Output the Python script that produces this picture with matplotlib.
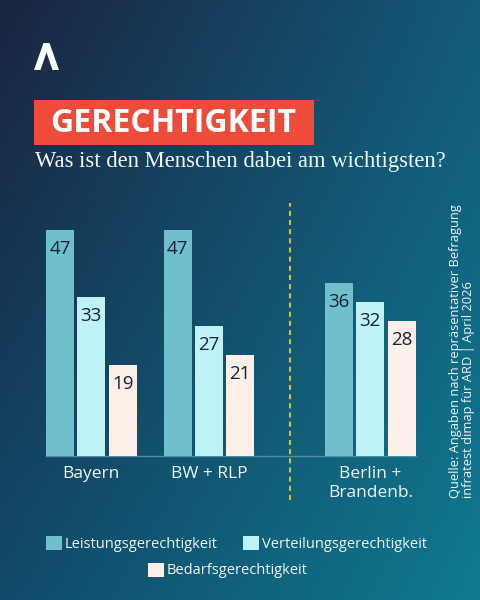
import numpy as np
import matplotlib
matplotlib.use("Agg")
import matplotlib.pyplot as plt
from matplotlib.patches import Rectangle, Polygon
import matplotlib.transforms as mtransforms

# ---- data ----
categories = ["Bayern", "BW + RLP", "Berlin +\nBrandenb."]
series_names = ["Leistungsgerechtigkeit", "Verteilungsgerechtigkeit", "Bedarfsgerechtigkeit"]
leistung = [47, 47, 36]
verteilung = [33, 27, 32]
bedarf = [19, 21, 28]
title = "GERECHTIGKEIT"
subtitle = "Was ist den Menschen dabei am wichtigsten?"
source_lines = ["Quelle: Angaben nach repräsentativer Befragung",
                "infratest dimap für ARD | April 2026"]

# ---- style ----
SANS = ["Open Sans", "DejaVu Sans"]
SERIF = ["Liberation Serif", "DejaVu Serif"]
colors = ["#6fc0cc", "#bff2f6", "#fbefe7"]
dark_txt = "#16213b"
light_txt = "#eef6f8"

W, H = 480, 600
fig = plt.figure(figsize=(W / 100, H / 100), dpi=100)

# background gradient
bg = fig.add_axes([0, 0, 1, 1], zorder=-10)
tl = np.array([26, 36, 64]) / 255
tr = np.array([19, 90, 122]) / 255
bl = np.array([17, 74, 106]) / 255
br = np.array([15, 122, 144]) / 255
u = np.linspace(0, 1, 200)[None, :, None]
v = np.linspace(0, 1, 250)[:, None, None]
img = (1 - v) * ((1 - u) * tl + u * tr) + v * ((1 - u) * bl + u * br)
bg.imshow(img, extent=[0, 1, 0, 1], aspect="auto", origin="upper")
bg.set_xlim(0, 1); bg.set_ylim(0, 1)
bg.axis("off")

def px(x, y):
    return x / W, 1 - y / H

# logo
logo = [(34, 70), (43.5, 43), (49.5, 43), (59, 70), (52.5, 70), (46.5, 52.5), (40.5, 70)]
fig.patches.append(Polygon([px(*p) for p in logo], closed=True, transform=fig.transFigure,
                           facecolor="white", edgecolor="none"))

# title box
fig.patches.append(Rectangle(px(34.3, 145.3), (314 - 34.3) / W, 45.3 / H,
                             transform=fig.transFigure, facecolor="#ef4b3b", edgecolor="none"))
fig.text(*px(50.5, 123), title, family=SANS, weight="bold", fontsize=23,
         color="white", va="center", ha="left")
fig.text(*px(35, 161.5), subtitle, family=SERIF, fontsize=16.3, color=light_txt,
         va="center", ha="left")

# ---- bar chart ----
ax = fig.add_axes([40 / W, 144 / H, 400 / W, 256 / H])
ax.set_facecolor("none")
for s in ax.spines.values():
    s.set_visible(False)
ax.set_xticks([]); ax.set_yticks([])

group_pos = np.array([0.0, 1.0, 2.374])
step = 0.266
width = 0.238
ax.set_xlim(-0.4366, 2.967)
ax.set_ylim(0, 53.22)

containers = []
for i, (vals, name, c) in enumerate(zip([leistung, verteilung, bedarf], series_names, colors)):
    bc = ax.bar(group_pos + (i - 1) * step, vals, width=width, color=c, label=name, zorder=2)
    containers.append(bc)
    for rect, val in zip(bc, vals):
        ax.annotate(str(val), (rect.get_x() + rect.get_width() / 2, rect.get_height()),
                    xytext=(0, -13.8), textcoords="offset points", ha="center", va="center",
                    family=SANS, fontsize=13.5, color=dark_txt, zorder=3)

# baseline
x_left = containers[0][0].get_x()
x_right = containers[-1][-1].get_x() + width
ax.plot([x_left, x_right], [0, 0], color="#4f8ea4", lw=1.0, zorder=1, clip_on=False)

# divider
div_x = (containers[-1][1].get_x() + width + containers[0][2].get_x()) / 2
trans = mtransforms.blended_transform_factory(ax.transData, ax.transAxes)
ax.plot([div_x, div_x], [-44 / 256, 253 / 256], transform=trans, color="#d8c030", lw=1.5,
        dashes=(2.4, 2.0), clip_on=False, zorder=1)

# category labels
for x, lab in zip(group_pos, categories):
    ax.annotate(lab, (x, 0), xytext=(0, -7.3), textcoords="offset points", ha="center",
                va="top", family=SANS, fontsize=12.5, color=light_txt, linespacing=1.25)

# source
for k, line in enumerate(source_lines):
    fig.text(*px(455 + 13.3 * k, 498), line, rotation=90, family=SANS, fontsize=9.3,
             color=light_txt, ha="center", va="bottom")

# legends
leg_kw = dict(frameon=False, prop={"family": SANS, "size": 10.5}, labelcolor=light_txt,
              handlelength=1.1, handleheight=1.1, handletextpad=0.2, borderpad=0,
              borderaxespad=0)
leg1 = fig.legend(containers[:2], series_names[:2], ncol=2, loc="center left",
                  bbox_to_anchor=px(46, 544), columnspacing=1.75, **leg_kw)
leg2 = fig.legend(containers[2:], series_names[2:], ncol=1, loc="center left",
                  bbox_to_anchor=px(148, 570.5), **leg_kw)

fig.savefig("out.png", dpi=100)
